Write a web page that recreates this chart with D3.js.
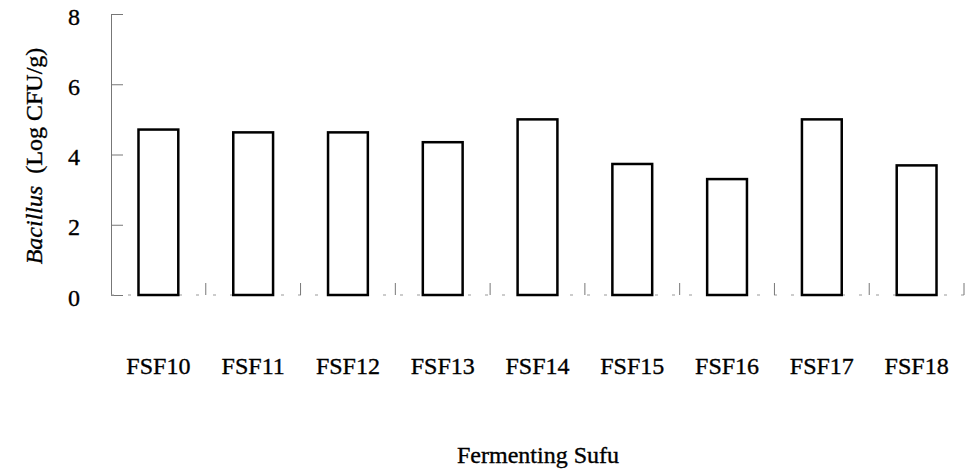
<!DOCTYPE html>
<html>
<head>
<meta charset="utf-8">
<script src="https://cdn.jsdelivr.net/npm/d3@7"></script>
<style>
  html, body { margin: 0; padding: 0; background: #fff; }
  svg text { stroke: #000; stroke-width: 0.35px; }
</style>
</head>
<body>
<div id="chart"></div>
<script>
// data
const categories = ['FSF10', 'FSF11', 'FSF12', 'FSF13', 'FSF14', 'FSF15', 'FSF16', 'FSF17', 'FSF18'];
const bacillus = [4.71, 4.63, 4.63, 4.35, 5.0, 3.73, 3.30, 5.0, 3.69];
const yTicks = [0, 2, 4, 6, 8];

const serif = '"Liberation Serif", "Times New Roman", Times, "DejaVu Serif", serif';
const width = 965, height = 475;
const svg = d3.select('#chart').append('svg')
    .attr('width', width)
    .attr('height', height)
    .attr('font-family', serif);

const x = d3.scaleBand()
    .domain(categories)
    .range([111, 964])
    .paddingInner(0.58)
    .paddingOuter(0.29);

const y = d3.scaleLinear()
    .domain([0, 8])
    .range([295, 14]);

// y axis (ticks point inward)
const yAxis = svg.append('g')
    .attr('transform', 'translate(111,0)')
    .call(d3.axisLeft(y).tickValues(yTicks).tickSizeInner(-12).tickSizeOuter(0).tickPadding(31))
    .attr('font-family', serif);
yAxis.select('.domain').attr('stroke', '#777').attr('stroke-width', 1);
yAxis.selectAll('.tick line').attr('stroke', '#777');
yAxis.selectAll('.tick text')
    .attr('fill', '#000')
    .style('font-family', serif)
    .style('font-size', '24px')
    .attr('dy', '0.42em');

// baseline, faint and broken like the scan
svg.append('line')
    .attr('x1', 111).attr('x2', 964)
    .attr('y1', y(0)).attr('y2', y(0))
    .attr('stroke', '#999')
    .attr('stroke-width', 1)
    .attr('stroke-dasharray', '3,14');

// tick marks between categories
const gap = (x.step() - x.bandwidth()) / 2;
svg.append('g')
    .selectAll('line')
    .data(categories)
    .enter().append('line')
    .attr('x1', d => x(d) + x.bandwidth() + gap)
    .attr('x2', d => x(d) + x.bandwidth() + gap)
    .attr('y1', y(0))
    .attr('y2', y(0) - 12)
    .attr('stroke', '#777')
    .attr('stroke-width', 1);

// bars
svg.append('g')
    .selectAll('rect')
    .data(categories)
    .enter().append('rect')
    .attr('x', d => x(d))
    .attr('y', (d, i) => y(bacillus[i]))
    .attr('width', x.bandwidth())
    .attr('height', (d, i) => y(0) - y(bacillus[i]))
    .attr('fill', '#fff')
    .attr('stroke', '#000')
    .attr('stroke-width', 2.5);

// category labels
const xAxis = svg.append('g')
    .attr('transform', `translate(0,${y(0)})`)
    .call(d3.axisBottom(x).tickSize(0).tickPadding(62))
    .attr('font-family', serif);
xAxis.select('.domain').remove();
xAxis.selectAll('.tick text')
    .attr('fill', '#000')
    .style('font-family', serif)
    .style('font-size', '24px');

// axis titles
svg.append('text')
    .attr('x', 538)
    .attr('y', 463)
    .attr('text-anchor', 'middle')
    .style('font-family', serif)
    .style('font-size', '24px')
    .text('Fermenting Sufu');

const yTitle = svg.append('text')
    .attr('transform', 'translate(42,156) rotate(-90)')
    .attr('text-anchor', 'middle')
    .style('font-family', serif)
    .style('font-size', '24px');
yTitle.append('tspan').style('font-style', 'italic').text('Bacillus');
yTitle.append('tspan').text('\u00a0 (Log CFU/g)');
</script>
</body>
</html>
